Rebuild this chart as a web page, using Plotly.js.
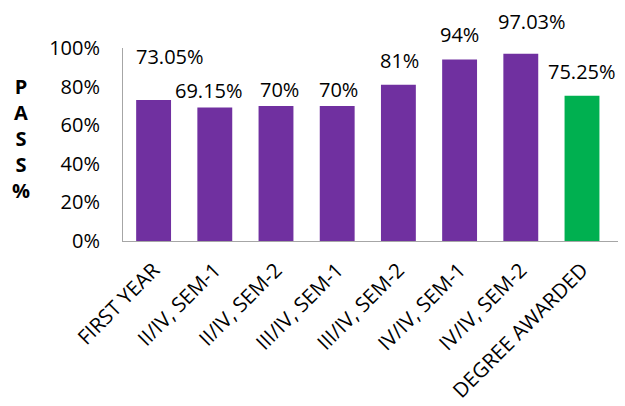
<!DOCTYPE html>
<html><head><meta charset="utf-8">
<script src="https://cdn.plot.ly/plotly-3.0.1.min.js"></script>
<style>html,body{margin:0;padding:0;background:#fff}</style>
</head><body><div id="chart" style="width:625px;height:406px"></div>
<script>
const categories = ["FIRST YEAR","II/IV, SEM-1","II/IV, SEM-2","III/IV, SEM-1","III/IV, SEM-2","IV/IV, SEM-1","IV/IV, SEM-2","DEGREE AWARDED"];
const passValues = [0.7305, 0.6915, 0.70, 0.70, 0.81, 0.94, 0.9703, 0.7525];
const valueLabels = ["73.05%","69.15%","70%","70%","81%","94%","97.03%","75.25%"];
const barColors = ["#7030A0","#7030A0","#7030A0","#7030A0","#7030A0","#7030A0","#7030A0","#00B050"];
// label offsets (style, px)
const labelYShift = [44, 17, 16, 16, 24, 25, 32, 24];
const labelXShift = [16, -6, 3, 1, 1, 0, 11, 0];

const font = "Open Sans, Liberation Sans, sans-serif";
const annotations = categories.map((c,i)=>({
  x: c, y: passValues[i], xref:'x', yref:'y', text: valueLabels[i],
  showarrow:false, yanchor:'middle', xanchor:'center',
  yshift: labelYShift[i], xshift: labelXShift[i],
  font:{family:font, size:20, color:'#000'}
}));
annotations.push({
  xref:'paper', yref:'paper', x:-0.207, y:0.53, xanchor:'center', yanchor:'middle',
  text:'<b>P</b><br><b>A</b><br><b>S</b><br><b>S</b><br><b>%</b>', showarrow:false,
  font:{family:font, size:20, color:'#000'}, align:'center'
});

Plotly.newPlot('chart', [{
  type:'bar', x: categories, y: passValues,
  marker:{color: barColors}, hoverinfo:'none'
}], {
  width:625, height:406,
  margin:{l:123, r:7, t:48, b:165},
  paper_bgcolor:'#fff', plot_bgcolor:'#fff',
  bargap:0.43, showlegend:false,
  font:{family:font, color:'#000'},
  xaxis:{showline:true, linecolor:'#a6a6a6', linewidth:1, showgrid:false, zeroline:false,
    ticks:'outside', ticklen:8, tickcolor:'rgba(0,0,0,0)', tickangle:-45,
    tickfont:{family:font, size:20.5, color:'#000'}},
  yaxis:{range:[0,1], tickvals:[0,0.2,0.4,0.6,0.8,1], ticktext:['0%','20%','40%','60%','80%','100%'],
    showline:true, linecolor:'#a6a6a6', linewidth:1, showgrid:false, zeroline:false,
    ticks:'outside', ticklen:18, tickcolor:'rgba(0,0,0,0)',
    tickfont:{family:font, size:20, color:'#000'}},
  annotations: annotations
}, {staticPlot:true});
</script></body></html>
